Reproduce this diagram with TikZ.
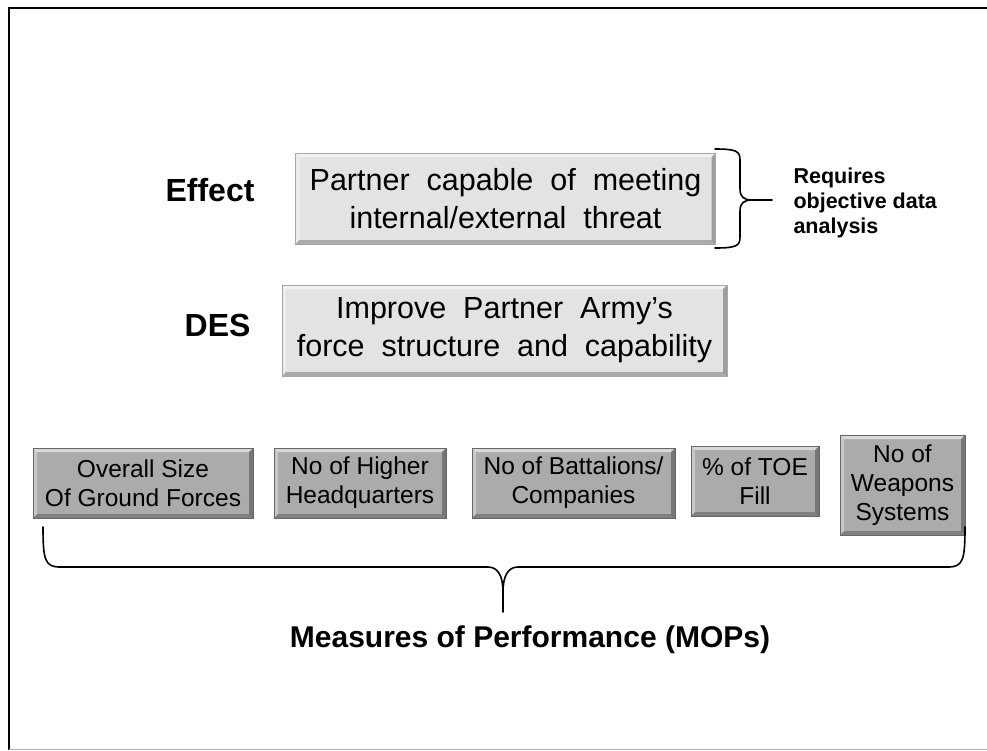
\documentclass[tikz,border=0pt]{standalone}
\usepackage{fontspec}
\setmainfont{Liberation Sans}
\newfontfamily\boxfont[WordSpace=2.0]{Liberation Sans}
\begin{document}
\begin{tikzpicture}[x=1pt,y=-1pt,
  bevel/.style 2 args={fill=#1, draw=#2, line width=0.8pt, inner sep=0pt, align=center,
    path picture={
      \fill[white,opacity=0.55] (path picture bounding box.north west) -- (path picture bounding box.north east)
        -- ([xshift=-4pt,yshift=-4pt]path picture bounding box.north east) -- ([xshift=4pt,yshift=-4pt]path picture bounding box.north west) -- cycle;
      \fill[white,opacity=0.35] (path picture bounding box.north west) -- ([xshift=4pt,yshift=-4pt]path picture bounding box.north west)
        -- ([xshift=4pt,yshift=4pt]path picture bounding box.south west) -- (path picture bounding box.south west) -- cycle;
      \fill[black,opacity=0.25] (path picture bounding box.south west) -- (path picture bounding box.south east)
        -- ([xshift=-4pt,yshift=4pt]path picture bounding box.south east) -- ([xshift=4pt,yshift=4pt]path picture bounding box.south west) -- cycle;
      \fill[black,opacity=0.3] (path picture bounding box.north east) -- (path picture bounding box.south east)
        -- ([xshift=-4pt,yshift=4pt]path picture bounding box.south east) -- ([xshift=-4pt,yshift=-4pt]path picture bounding box.north east) -- cycle;
    }},
  lightbox/.style={bevel={gray!22}{gray!70}, font=\boxfont\fontsize{30.5}{38}\selectfont},
  darkbox/.style={bevel={gray!66}{gray!80!black}, font=\fontsize{24.5}{29}\selectfont},
  lbl/.style={font=\bfseries\fontsize{32}{38}\selectfont},
  bracepath/.style={draw=black, line width=1.6pt, line cap=round, line join=round}
]
\useasboundingbox (0,0) rectangle (987,750);
% frame
\draw[line width=2.6pt] (9,750) -- (9,8) -- (987,8);
\draw[gray!60, line width=1.2pt] (9,749.2) -- (987,749.2);

% labels
\node[lbl, anchor=east] (effect) at (258,190) {Effect};
\node[lbl, anchor=east] (des) at (254,325) {DES};

% top boxes
\node[lightbox, minimum width=420, minimum height=91] (eff) at (505.5,198.5)
  {Partner capable of meeting\\internal/external threat};
\node[lightbox, minimum width=445, minimum height=91] (desbox) at (504.5,330.5)
  {Improve Partner Army’s\\force structure and capability};

% brace right of effect
\coordinate (rb1) at (715,149);
\coordinate (rb2) at (715,248);
\coordinate (rtip) at (772,200);
\draw[bracepath] (rb1) .. controls (736,149) and (740,151) .. (740,160) -- (740,189)
  .. controls (740,197) and (744,200) .. (752,200) -- (rtip);
\draw[bracepath] (rb2) .. controls (736,248) and (740,246) .. (740,237) -- (740,211)
  .. controls (740,203) and (744,200) .. (752,200);
\node[font=\bfseries\fontsize{21.5}{25}\selectfont, align=left, anchor=west] (req) at (790,203)
  {Requires\\objective data\\analysis};

% bottom boxes
\node[darkbox, minimum width=220, minimum height=70] (b1) at (143,483) {Overall Size\\Of Ground Forces};
\node[darkbox, minimum width=172, minimum height=70] (b2) at (360,483) {No of Higher\\Headquarters};
\node[darkbox, minimum width=203, minimum height=70] (b3) at (573.5,483) {No of Battalions/\\Companies};
\node[darkbox, minimum width=128, minimum height=70] (b4) at (755,481) {\% of TOE\\Fill};
\node[darkbox, minimum width=125, minimum height=100] (b5) at (902.5,485) {No of\\Weapons\\Systems};

% bottom brace
\coordinate (bl) at (43,527);
\coordinate (br) at (965,527);
\coordinate (btip) at (503,612);
\draw[bracepath] (bl) .. controls (43,560) and (45,567) .. (60,567) -- (488,567)
  .. controls (498,567) and (503,576) .. (503,592) -- (btip);
\draw[bracepath] (br) .. controls (965,560) and (963,567) .. (948,567) -- (518,567)
  .. controls (508,567) and (503,576) .. (503,592);

\node[font=\bfseries\fontsize{30}{36}\selectfont] (mops) at (530,640) {Measures of Performance (MOPs)};
\end{tikzpicture}
\end{document}
